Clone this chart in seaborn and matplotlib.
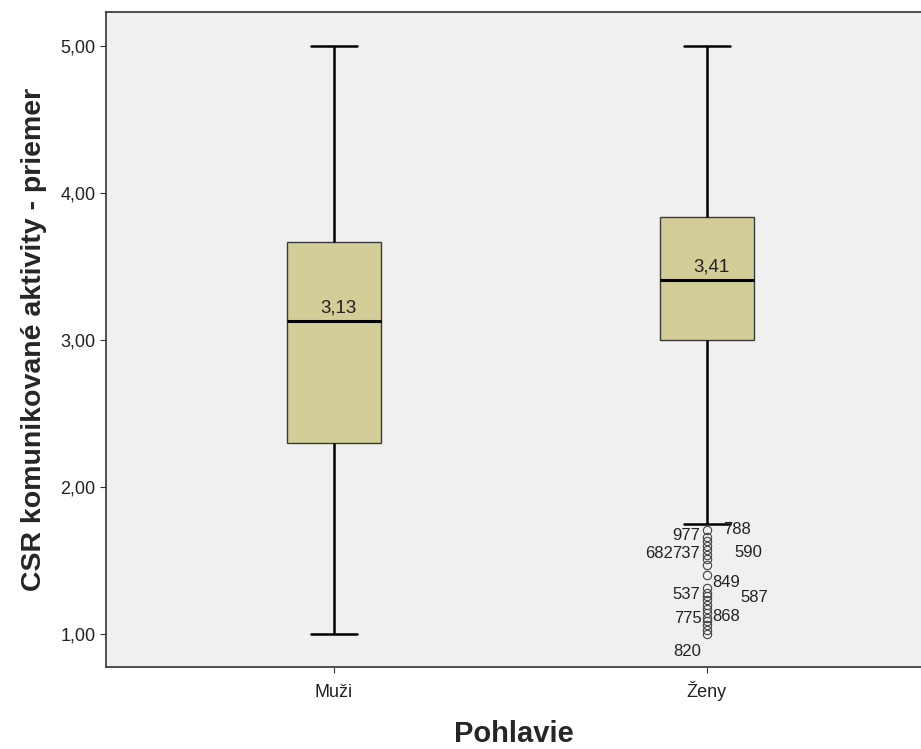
import matplotlib.font_manager as fm
import matplotlib.pyplot as plt
import matplotlib.ticker as mticker
import pandas as pd
import seaborn as sns

sns.set_style("white")
plt.rcParams["font.family"] = ["Liberation Sans", "DejaVu Sans"]

# Five-number summaries (min whisker, Q1, median, Q3, max whisker)
groups = ["Muži", "Ženy"]
whisker_low = [1.00, 1.75]
q1 = [2.30, 3.00]
medians = [3.13, 3.41]
q3 = [3.67, 3.84]
whisker_high = [5.00, 5.00]

# Outliers of the second group (circles below the lower whisker)
zeny_outliers = [1.71, 1.66, 1.63, 1.60, 1.57, 1.54, 1.51, 1.47, 1.40, 1.31, 1.28,
                 1.26, 1.23, 1.20, 1.17, 1.14, 1.11, 1.09, 1.06, 1.03, 1.00]

# Case-number labels next to the outliers: label, value, side offset in px
outlier_ids = ["788", "977", "590", "737", "682", "849", "537", "587", "775", "868", "820"]
outlier_label_vals = [1.714, 1.673, 1.558, 1.551, 1.551, 1.354, 1.272, 1.252, 1.109, 1.122, 0.884]
outlier_label_dx = [16, -7, 27, -7, -34, 5, -7, 33, -5, 5, -6]

median_labels = ["3,13", "3,41"]


def build_sample(low, lo_q, med, hi_q, high):
    # sorted sample whose linear-interpolated quartiles hit lo_q/med/hi_q exactly
    m = len(low)
    return list(low) + [lo_q] + [med] * m + [hi_q] * m + [high] * m


rows = []
low_lists = [[whisker_low[0]], zeny_outliers + [whisker_low[1]]]
for i, g in enumerate(groups):
    for v in build_sample(low_lists[i], q1[i], medians[i], q3[i], whisker_high[i]):
        rows.append({"Pohlavie": g, "value": v})
df = pd.DataFrame(rows)

fig = plt.figure(figsize=(9.21, 7.49), dpi=100)
ax = fig.add_axes([106 / 921, 1 - 667 / 749, 1 - 106 / 921, (667 - 12) / 749])
ax.set_facecolor("#f0f0f0")

sns.boxplot(
    data=df, x="Pohlavie", y="value", ax=ax, width=0.25, color="#d3ce97", saturation=1,
    linecolor="#222222", linewidth=1.2, whis=1.5, fliersize=6,
    boxprops=dict(edgecolor="#3a3a3a", linewidth=1.0),
    whiskerprops=dict(color="black", linewidth=1.8),
    capprops=dict(color="black", linewidth=1.8),
    medianprops=dict(color="black", linewidth=2.2),
    flierprops=dict(marker="o", markerfacecolor="none", markeredgecolor="#444444",
                    markeredgewidth=0.8),
)

for i, txt in enumerate(median_labels):
    ax.annotate(txt, (i, medians[i]), xytext=(3, 3), textcoords="offset points",
                ha="center", va="bottom", fontsize=13.5, color="#222222")

px = 72 / 100
for lab, v, dx in zip(outlier_ids, outlier_label_vals, outlier_label_dx):
    ax.annotate(lab, (1, v), xytext=(dx * px, 0), textcoords="offset points",
                ha="left" if dx > 0 else "right", va="center", fontsize=12, color="#222222")

ax.set_xlim(-0.611, 1.574)
ax.set_ylim(0.776, 5.231)
ax.set_yticks([1, 2, 3, 4, 5])
ax.yaxis.set_major_formatter(mticker.FuncFormatter(lambda v, p: f"{v:.2f}".replace(".", ",")))
ax.tick_params(axis="both", direction="out", length=4, width=0.8, color="#333333",
               labelsize=13, labelcolor="#222222", left=True, bottom=True)
ax.tick_params(axis="x", pad=17.5)
for t in ax.get_xticklabels():
    t.set_verticalalignment("baseline")

for side in ["left", "top", "bottom"]:
    ax.spines[side].set_color("#333333")
    ax.spines[side].set_linewidth(1.2)
ax.spines["right"].set_visible(False)

ax.set_xlabel("Pohlavie", fontsize=21, fontweight="bold", labelpad=14)

installed = {f.name for f in fm.fontManager.ttflist}
if "Liberation Sans Narrow" in installed:
    ax.set_ylabel("CSR komunikované aktivity - priemer", fontsize=24, fontweight="bold",
                  family=["Liberation Sans Narrow", "DejaVu Sans"], labelpad=12)
else:
    ax.set_ylabel("CSR komunikované aktivity - priemer", fontsize=20.5, fontweight="bold",
                  family=["Liberation Sans", "DejaVu Sans"], labelpad=10)

fig.savefig("out.png", dpi=100)
